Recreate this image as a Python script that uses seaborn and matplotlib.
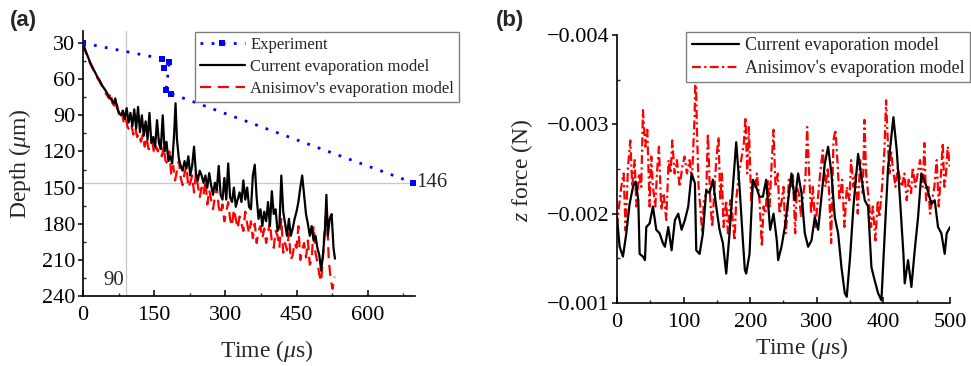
import numpy as np
import pandas as pd
import matplotlib
matplotlib.use("Agg")
import matplotlib.pyplot as plt
import seaborn as sns
from matplotlib.ticker import MultipleLocator, FuncFormatter

# ---------------- Panel (a) data ----------------
exp_time = [0, 167, 171, 182, 175, 186, 696]
exp_depth = [30, 43, 51, 46, 69, 72, 146]

cur_a_time = [0, 5, 10, 15, 20, 25, 30, 35, 40, 45, 50, 55, 60, 65, 68, 72, 76, 80, 84, 88,
              92, 96, 100, 104, 108, 112, 116, 120, 124, 128, 132, 136, 140, 144, 148, 152,
              156, 160, 164, 168, 172, 176, 180, 184, 188, 192, 195, 198, 202, 206, 210, 214,
              218, 222, 226, 230, 234, 238, 242, 246, 250, 254, 258, 262, 266, 270, 274, 278,
              282, 286, 290, 294, 298, 302, 306, 310, 314, 318, 322, 326, 330, 334, 338, 342,
              346, 350, 354, 358, 362, 366, 370, 374, 378, 382, 386, 390, 394, 398, 402, 406,
              410, 414, 418, 422, 426, 430, 434, 438, 442, 446, 450, 454, 458, 462, 466, 470,
              474, 478, 482, 486, 490, 494, 498, 502, 506, 510, 513, 516, 520, 524, 528, 531]
cur_a_depth = [30, 36, 41, 46, 50, 54, 58, 61, 65, 68, 71, 75, 77, 80, 76, 84, 88, 90, 86, 93,
               84, 96, 88, 99, 85, 101, 83, 104, 90, 107, 95, 110, 88, 113, 108, 116,
               94, 113, 118, 90, 120, 112, 128, 124, 130, 106, 80, 110, 126, 132, 136, 128,
               134, 124, 140, 132, 116, 138, 144, 136, 140, 146, 140, 150, 138, 148, 156, 146,
               152, 132, 156, 160, 142, 160, 130, 158, 162, 150, 166, 160, 154, 162, 144, 160,
               150, 166, 168, 140, 131, 158, 176, 168, 182, 170, 178, 162, 182, 153, 172, 168,
               186, 182, 140, 170, 180, 190, 176, 190, 184, 176, 170, 162, 150, 140, 156, 172,
               180, 190, 182, 194, 190, 200, 206, 219, 205, 185, 156, 190, 176, 172, 200, 209]

ani_a_time = [0, 5, 10, 15, 20, 25, 30, 35, 40, 45, 50, 55, 58, 62, 66, 70, 74, 78, 82, 86,
              90, 94, 98, 102, 106, 110, 114, 118, 122, 126, 130, 134, 138, 142, 146, 150,
              154, 158, 162, 166, 170, 174, 178, 182, 186, 190, 194, 198, 202, 206, 210, 214,
              218, 222, 226, 230, 234, 238, 242, 246, 250, 254, 258, 262, 266, 270, 274, 278,
              282, 286, 290, 294, 298, 302, 306, 310, 314, 318, 322, 326, 330, 334, 338, 342,
              346, 350, 354, 358, 362, 366, 370, 374, 378, 382, 386, 390, 394, 398, 402, 406,
              410, 414, 418, 422, 426, 430, 434, 438, 442, 446, 450, 454, 458, 462, 466, 470,
              474, 478, 482, 486, 490, 494, 498, 502, 506, 510, 514, 518, 522, 526, 530]
ani_a_depth = [31, 37, 42, 47, 51, 55, 59, 62, 66, 70, 73, 76, 71, 80, 82, 78, 86, 92, 88, 96,
               92, 100, 102, 98, 106, 100, 108, 105, 112, 106, 116, 108, 118, 118, 112, 122,
               116, 120, 110, 124, 116, 128, 130, 120, 140, 132, 144, 136, 128, 142, 148, 138,
               132, 150, 146, 140, 154, 138, 148, 158, 150, 156, 144, 164, 152, 160, 168, 158,
               150, 166, 172, 164, 178, 170, 162, 176, 182, 168, 176, 184, 174, 180, 186, 170,
               180, 188, 178, 192, 180, 196, 186, 182, 192, 184, 196, 188, 178, 196, 200, 186,
               190, 200, 176, 204, 196, 202, 188, 210, 206, 196, 200, 182, 210, 202, 196, 208,
               194, 214, 210, 182, 204, 212, 222, 228, 206, 180, 168, 210, 226, 234, 224]

# ---------------- Panel (b) data ----------------
cur_b_time = [0, 4, 9, 14, 19, 24, 28, 32, 34, 39, 42, 44, 49, 54, 59, 64, 69, 72, 77, 82,
              87, 92, 97, 102, 107, 112, 117, 119, 124, 129, 134, 139, 144, 149, 154, 159,
              164, 169, 174, 179, 184, 189, 192, 194, 199, 204, 209, 214, 219, 224, 230, 235,
              240, 242, 247, 252, 257, 262, 267, 272, 277, 282, 287, 292, 297, 302, 307, 312,
              317, 322, 327, 332, 337, 342, 345, 350, 355, 362, 367, 372, 377, 382, 387, 392,
              397, 402, 407, 415, 420, 425, 430, 432, 437, 442, 447, 452, 457, 465, 472, 477,
              482, 487, 492, 495, 500]
cur_b_force = [-0.00196, -0.00163, -0.00152, -0.00178, -0.00211, -0.00230, -0.00236, -0.00215,
               -0.00155, -0.00152, -0.00148, -0.00185, -0.00189, -0.00208, -0.00182, -0.00178,
               -0.00167, -0.00163, -0.00185, -0.00159, -0.00193, -0.00200, -0.00182, -0.00193,
               -0.00208, -0.00245, -0.00234, -0.00159, -0.00155, -0.00178, -0.00226, -0.00223,
               -0.00238, -0.00208, -0.00182, -0.00167, -0.00133, -0.00178, -0.00230, -0.00280,
               -0.00230, -0.00170, -0.00137, -0.00133, -0.00155, -0.00238, -0.00230, -0.00219,
               -0.00219, -0.00238, -0.00182, -0.00200, -0.00170, -0.00148, -0.00163, -0.00185,
               -0.00215, -0.00245, -0.00215, -0.00245, -0.00223, -0.00178, -0.00163, -0.00170,
               -0.00196, -0.00182, -0.00219, -0.00256, -0.00275, -0.00245, -0.00196, -0.00178,
               -0.00140, -0.00111, -0.00107, -0.00152, -0.00208, -0.00267, -0.00241, -0.00215,
               -0.00208, -0.00140, -0.00125, -0.00111, -0.00103, -0.00178, -0.00252, -0.00308,
               -0.00271, -0.00215, -0.00155, -0.00122, -0.00148, -0.00118, -0.00159, -0.00196,
               -0.00245, -0.00230, -0.00211, -0.00215, -0.00185, -0.00178, -0.00155, -0.00178,
               -0.00185]

ani_b_time = [0, 3, 6.5, 10, 13, 16.5, 20, 23, 26.5, 29, 33, 36.5, 39, 42.5, 45.5, 49, 51.5, 54,
              57.5, 60, 63, 66.5, 70, 74, 77.5, 80.5, 83, 86.5, 90, 94, 98, 101.5, 105, 109,
              112.5, 116.5, 118, 120, 122.5, 125, 128, 130.5, 134, 136.5, 140, 143, 146.5, 149,
              152.5, 155, 157.5, 160, 164, 166.5, 170, 173, 176.5, 179, 183, 186.5, 190.5, 193,
              195.5, 198, 201.5, 204, 207.5, 210, 214, 217.5, 220, 223, 226.5, 229, 232.5, 235,
              238, 241.5, 244, 247.5, 250, 253, 255.5, 258, 260.5, 264, 267.5, 270, 273, 276.5,
              280, 283, 285.5, 288, 291.5, 294, 298, 301.5, 305, 309, 313, 316.5, 319, 321.5,
              325, 328, 331.5, 334, 338, 341.5, 345, 349, 351.5, 355, 358, 361.5, 365, 369,
              371.5, 374, 378, 381.5, 384, 388, 391.5, 394, 398, 401.5, 404, 406.5, 409, 411.5,
              414, 418, 421.5, 425, 428, 431.5, 435, 438, 441.5, 444, 448, 451.5, 455, 459,
              461.5, 464, 467.5, 470, 473, 476.5, 480, 483, 486.5, 489, 491.5, 494, 496.5, 500]
ani_b_force = [-0.00185, -0.00208, -0.00230, -0.00245, -0.00181, -0.00252, -0.00282, -0.00230,
               -0.00260, -0.00208, -0.00245, -0.00230, -0.00316, -0.00275, -0.00294, -0.00208,
               -0.00264, -0.00230, -0.00208, -0.00245, -0.00275, -0.00204, -0.00223, -0.00193,
               -0.00260, -0.00245, -0.00282, -0.00245, -0.00260, -0.00230, -0.00252, -0.00264,
               -0.00245, -0.00260, -0.00238, -0.00308, -0.00365, -0.00297, -0.00230, -0.00208,
               -0.00178, -0.00215, -0.00223, -0.00290, -0.00215, -0.00185, -0.00230, -0.00260,
               -0.00286, -0.00215, -0.00245, -0.00185, -0.00215, -0.00178, -0.00215, -0.00200,
               -0.00170, -0.00215, -0.00245, -0.00260, -0.00279, -0.00308, -0.00245, -0.00297,
               -0.00215, -0.00238, -0.00230, -0.00245, -0.00215, -0.00163, -0.00208, -0.00200,
               -0.00238, -0.00208, -0.00260, -0.00294, -0.00230, -0.00245, -0.00200, -0.00215,
               -0.00230, -0.00178, -0.00196, -0.00238, -0.00230, -0.00245, -0.00178, -0.00230,
               -0.00223, -0.00196, -0.00223, -0.00241, -0.00297, -0.00252, -0.00200, -0.00230,
               -0.00185, -0.00215, -0.00245, -0.00271, -0.00230, -0.00252, -0.00215, -0.00167,
               -0.00282, -0.00294, -0.00252, -0.00215, -0.00238, -0.00185, -0.00230, -0.00215,
               -0.00260, -0.00230, -0.00245, -0.00200, -0.00260, -0.00223, -0.00305, -0.00245,
               -0.00215, -0.00185, -0.00208, -0.00170, -0.00215, -0.00196, -0.00230, -0.00271,
               -0.00327, -0.00282, -0.00245, -0.00271, -0.00252, -0.00230, -0.00252, -0.00238,
               -0.00230, -0.00245, -0.00215, -0.00238, -0.00223, -0.00252, -0.00230, -0.00245,
               -0.00260, -0.00230, -0.00279, -0.00215, -0.00230, -0.00200, -0.00215, -0.00230,
               -0.00260, -0.00208, -0.00245, -0.00279, -0.00230, -0.00245, -0.00275, -0.00252]

x_ticks_a = [0, 150, 300, 450, 600]
y_ticks_a = [30, 60, 90, 120, 150, 180, 210, 240]
x_ticks_b = [0, 100, 200, 300, 400, 500]
y_ticks_b = [-0.004, -0.003, -0.002, -0.001]
ref_time = 90

# ---------------- Style ----------------
sns.set_style("ticks")
plt.rcParams["font.family"] = ["Liberation Serif", "DejaVu Serif"]
plt.rcParams["mathtext.fontset"] = "custom"
plt.rcParams["mathtext.rm"] = "Liberation Serif"
plt.rcParams["mathtext.it"] = "Liberation Serif:italic"
plt.rcParams["axes.unicode_minus"] = True

fig = plt.figure(figsize=(9.71, 3.66), dpi=100)
axa = fig.add_axes([0.0855, 0.1913, 0.342, 0.724])
axb = fig.add_axes([0.6354, 0.1721, 0.343, 0.7322])

df_exp = pd.DataFrame({"t": exp_time, "d": exp_depth})
df_ca = pd.DataFrame({"t": cur_a_time, "d": cur_a_depth})
df_aa = pd.DataFrame({"t": ani_a_time, "d": ani_a_depth})
df_cb = pd.DataFrame({"t": cur_b_time, "f": cur_b_force})
df_ab = pd.DataFrame({"t": ani_b_time, "f": ani_b_force})

# reference lines in (a)
axa.axvline(ref_time, color="#c8c8c8", lw=0.9, zorder=0)
axa.hlines(exp_depth[-1], 0, exp_time[-1], color="#c8c8c8", lw=0.9, zorder=0)

sns.lineplot(data=df_aa, x="t", y="d", ax=axa, sort=False, estimator=None,
             color="#ff0000", lw=1.6, linestyle=(0, (5, 3)), label="Anisimov's evaporation model", zorder=2)
sns.lineplot(data=df_ca, x="t", y="d", ax=axa, sort=False, estimator=None,
             color="black", lw=1.6, label="Current evaporation model", zorder=3)
sns.lineplot(data=df_exp, x="t", y="d", ax=axa, sort=False, estimator=None,
             color="#0000ff", lw=2.0, linestyle=(0, (1, 3)), marker="s", markersize=4.5,
             markeredgewidth=0, label="Experiment", zorder=4)

axa.set_xlim(0, 700)
axa.set_ylim(240, 20)
axa.set_xticks(x_ticks_a)
axa.set_yticks(y_ticks_a)
axa.xaxis.set_minor_locator(MultipleLocator(75))
axa.yaxis.set_minor_locator(MultipleLocator(15))
axa.set_xlabel(r"Time ($\mu$s)", fontsize=17)
axa.set_ylabel(r"Depth ($\mu$m)", fontsize=17)
axa.xaxis.set_label_coords(0.554, -0.158)
axa.yaxis.set_label_coords(-0.150, 0.5)

axa.text(ref_time - 3, 227, str(ref_time), fontsize=15, ha="right", va="center")
axa.text(exp_time[-1] + 6, exp_depth[-1], str(exp_depth[-1]), fontsize=15, ha="left",
         va="center", clip_on=False)

h, l = axa.get_legend_handles_labels()
order = [2, 1, 0]
leg = axa.legend([h[i] for i in order], [l[i] for i in order], loc="upper right",
                 bbox_to_anchor=(1.133, 0.995), borderaxespad=0, fontsize=12,
                 handlelength=2.7, handletextpad=0.35, labelspacing=0.35, borderpad=0.3,
                 frameon=True, fancybox=False, framealpha=1)
leg.get_frame().set_edgecolor("#808080")
leg.get_frame().set_linewidth(1.0)

# (b)
sns.lineplot(data=df_ab, x="t", y="f", ax=axb, sort=False, estimator=None,
             color="#ff0000", lw=1.6, linestyle=(0, (4, 1.5, 1, 1.5)),
             label="Anisimov's evaporation model", zorder=2)
sns.lineplot(data=df_cb, x="t", y="f", ax=axb, sort=False, estimator=None,
             color="black", lw=1.6, label="Current evaporation model", zorder=3)
axb.set_xlim(0, 500)
axb.set_ylim(-0.001, -0.004)
axb.set_xticks(x_ticks_b)
axb.set_yticks(y_ticks_b)
axb.xaxis.set_minor_locator(MultipleLocator(50))
axb.yaxis.set_minor_locator(MultipleLocator(0.0005))
axb.yaxis.set_major_formatter(FuncFormatter(lambda v, p: f"{v:.3f}".replace("-", "\u2212")))
axb.set_xlabel(r"Time ($\mu$s)", fontsize=17)
axb.set_ylabel(r"$z$ force (N)", fontsize=17)
axb.xaxis.set_label_coords(0.556, -0.119)
axb.yaxis.set_label_coords(-0.246, 0.496)

h, l = axb.get_legend_handles_labels()
leg = axb.legend([h[1], h[0]], [l[1], l[0]], loc="upper right",
                 bbox_to_anchor=(1.06, 1.011), borderaxespad=0, fontsize=13,
                 handlelength=2.6, handletextpad=0.35, labelspacing=0.3, borderpad=0.3,
                 frameon=True, fancybox=False, framealpha=1)
leg.get_frame().set_edgecolor("#808080")
leg.get_frame().set_linewidth(1.0)
leg.set_zorder(10)

for ax in (axa, axb):
    sns.despine(ax=ax)
    for s in ("left", "bottom"):
        ax.spines[s].set_linewidth(1.2)
        ax.spines[s].set_color("black")
    ax.tick_params(axis="x", which="major", direction="in", length=4, width=1.1,
                   labelsize=16, colors="black", pad=7)
    ax.tick_params(axis="x", which="minor", direction="in", length=2.5, width=1.0)
    ax.tick_params(axis="y", which="major", direction="out", length=3.5, width=1.1,
                   labelsize=16, colors="black", pad=2)
    ax.tick_params(axis="y", which="minor", direction="in", length=2.5, width=1.0)
    ax.grid(False)

fig.text(0.010, 0.945, "(a)", fontsize=16, fontweight="bold", family="Liberation Sans",
         ha="left", va="center")
fig.text(0.511, 0.945, "(b)", fontsize=16, fontweight="bold", family="Liberation Sans",
         ha="left", va="center")

fig.savefig("out.png", dpi=100)
